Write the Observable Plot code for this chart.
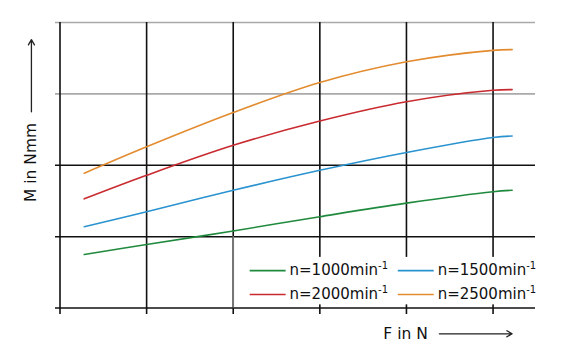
<!DOCTYPE html>
<html>
<head>
<meta charset="utf-8">
<script src="https://cdn.jsdelivr.net/npm/d3@7"></script>
<script src="https://cdn.jsdelivr.net/npm/@observablehq/plot@0.6"></script>
<style>
  html, body { margin: 0; padding: 0; background: #fff; }
  #chart svg { display: block; }
</style>
</head>
<body>
<div id="chart"></div>
<script>
// ---- data (arbitrary units, no tick labels shown) ----
const forceF = [0.28, 1, 2, 3, 4, 5, 5.22];
const m1000 = [0.75, 0.89, 1.08, 1.28, 1.47, 1.63, 1.65];
const m1500 = [1.14, 1.35, 1.65, 1.93, 2.18, 2.39, 2.41];
const m2000 = [1.53, 1.86, 2.28, 2.62, 2.89, 3.05, 3.06];
const m2500 = [1.89, 2.26, 2.74, 3.16, 3.45, 3.61, 3.62];
const seriesNames = ["n=1000min-1", "n=1500min-1", "n=2000min-1", "n=2500min-1"];
const seriesColors = ["#1f8a3e", "#2a93cf", "#c92a2f", "#e38b2f"];
const gridX = [0, 1, 2, 3, 4, 5];
const gridYBlack = [0, 1, 2];
const gridYGray = [3, 4];
const xLabel = "F in N";
const yLabel = "M in Nmm";

// ---- build table ----
const seriesValues = [m1000, m1500, m2000, m2500];
const table = seriesValues.flatMap((vals, i) =>
  vals.map((m, j) => ({series: seriesNames[i], F: forceF[j], M: m})));

// ---- layout (frame geometry in scale units) ----
const X0 = -0.052, X1 = 5.49, Y0 = -0.09, Y1 = 4;
const legendItems = seriesNames.map((name, i) => ({
  name,
  color: seriesColors[i],
  col: i % 2,
  row: Math.floor(i / 2)
}));
const legCols = [{s1: 2.19, s2: 2.605, t: 2.65}, {s1: 3.9, s2: 4.315, t: 4.36}];
const legRows = [0.525, 0.19];

const plot = Plot.plot({
  width: 563,
  height: 364,
  marginLeft: 55,
  marginRight: 28,
  marginTop: 22,
  marginBottom: 50,
  x: {domain: [X0, X1], axis: null},
  y: {domain: [Y0, Y1], axis: null},
  color: {domain: seriesNames, range: seriesColors},
  style: {fontFamily: "DejaVu Sans", background: "#fff", color: "#111"},
  marks: [
    Plot.ruleY(gridYGray, {x1: X0, x2: X1, stroke: "#a9a9a9", strokeWidth: 1.7}),
    Plot.ruleY(gridYBlack, {x1: X0, x2: X1, stroke: "#111", strokeWidth: 1.6}),
    Plot.ruleX(gridX, {y1: Y0, y2: Y1, stroke: "#111", strokeWidth: 1.6}),
    // legend background
    Plot.rect([0], {x1: 2.07, x2: X1, y1: 0.045, y2: 0.71, fill: "#fff"}),
    Plot.ruleX([2], {y1: 0, y2: 1, stroke: "#777", strokeWidth: 1.6}),
    // curves
    Plot.line(table, {x: "F", y: "M", stroke: "series", z: "series", strokeWidth: 1.6, curve: "catmull-rom"}),
    // legend
    Plot.link(legendItems, {
      x1: d => legCols[d.col].s1, x2: d => legCols[d.col].s2,
      y1: d => legRows[d.row], y2: d => legRows[d.row],
      stroke: d => d.name, strokeWidth: 1.6
    }),
    Plot.text(legendItems, {
      x: d => legCols[d.col].t, y: d => legRows[d.row], text: "name",
      textAnchor: "start", fontSize: 15, fill: "#111", className: "legtext"
    }),
    // axis labels with arrows
    Plot.text([xLabel], {x: 3.99, y: -0.36, text: d => d, fontSize: 15.5, fill: "#111"}),
    Plot.arrow([0], {x1: 4.38, x2: 5.22, y1: -0.36, y2: -0.36, stroke: "#222", strokeWidth: 1.3, headLength: 7, bend: 0}),
    Plot.text([yLabel], {x: -0.33, y: 2.04, text: d => d, rotate: -90, fontSize: 15.5, fill: "#111"}),
    Plot.arrow([0], {x1: -0.33, x2: -0.33, y1: 2.75, y2: 3.76, stroke: "#222", strokeWidth: 1.3, headLength: 7, bend: 0})
  ]
});
document.getElementById("chart").append(plot);

// render the "-1" exponent of the legend entries as a raised superscript
d3.select(plot).selectAll("g.legtext text").each(function () {
  const full = this.textContent;
  const m = full.match(/^(.*min)(-1)$/);
  if (!m) return;
  const t = d3.select(this);
  t.text(m[1]);
  t.append("tspan").attr("font-size", 10).attr("dy", "-0.6em").text(m[2]);
});
</script>
</body>
</html>
